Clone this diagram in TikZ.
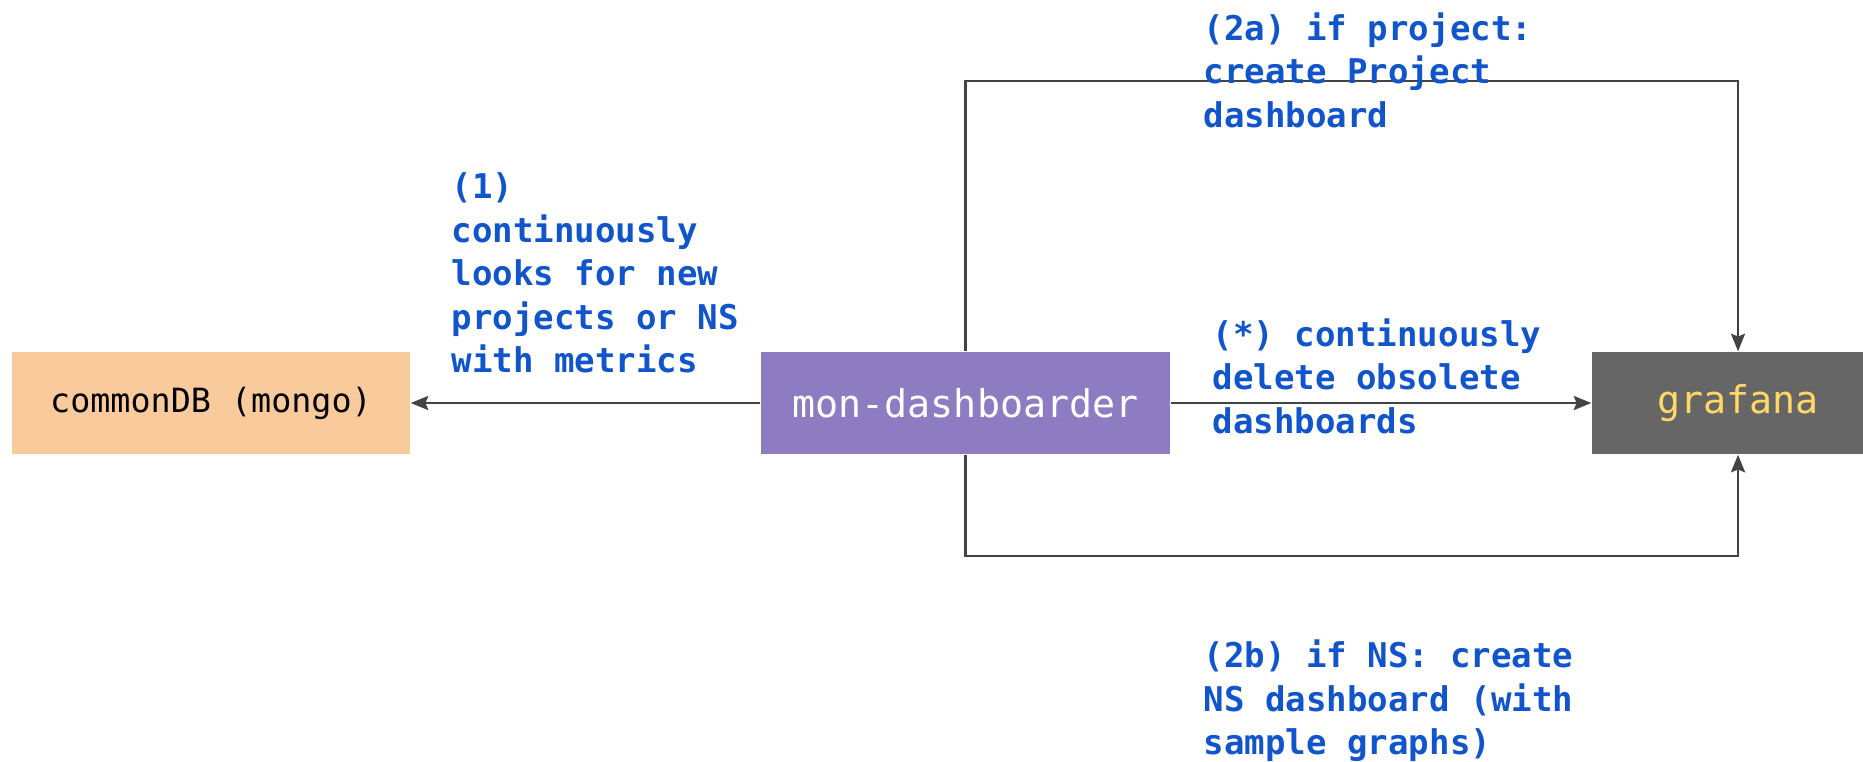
\documentclass[tikz,border=0pt]{standalone}
\usepackage{fontspec}
\setmonofont{DejaVu Sans Mono}
\definecolor{dbpeach}{RGB}{249,203,156}
\definecolor{dbpurple}{RGB}{142,124,195}
\definecolor{dbgray}{RGB}{102,102,102}
\definecolor{dbyellow}{RGB}{255,217,102}
\definecolor{dbblue}{RGB}{17,85,204}
\definecolor{dbline}{RGB}{67,67,67}
\usetikzlibrary{arrows.meta,positioning,calc}

\begin{document}
\begin{tikzpicture}[
  box/.style={minimum height=1.02cm, inner sep=0pt},
  note/.style={anchor=west, inner sep=0pt, align=left, text=dbblue,
    font=\ttfamily\bfseries\fontsize{9.7}{12.4}\selectfont},
  conn/.style={dbline, line width=0.65pt, -{Stealth[length=5pt,width=4pt,inset=0.8pt]}}]

\clip (0,0) rectangle (18.63,7.61);

% Boxes
\node[box, fill=dbpeach, minimum width=3.98cm,
      font=\ttfamily\fontsize{9.5}{11}\selectfont] (db) at (2.11,3.58) {commonDB (mongo)};
\node[box, fill=dbpurple, minimum width=4.09cm, text=white,
      font=\ttfamily\fontsize{10.9}{12}\selectfont] (dash) at (9.655,3.58) {mon-dashboarder};
\node[box, fill=dbgray, minimum width=2.92cm, text=dbyellow,
      font=\ttfamily\fontsize{10.9}{12}\selectfont] (graf) at (17.38,3.58) {grafana};

% Loop levels
\coordinate (top) at (0,6.80);
\coordinate (bot) at (0,2.05);

% Arrows
\draw[conn] (dash.west) -- (db.east);
\draw[conn] (dash.east) -- (graf.west);
\draw[conn] (dash.north) -- (dash.north |- top) -| (graf.north);
\draw[conn] (dash.south) -- (dash.south |- bot) -| (graf.south);

% Labels
\node[note] (l1) at (4.51,4.88) {(1)\\continuously\\looks for new\\projects or NS\\with metrics};
\node[note] (l2a) at (12.03,6.91) {(2a) if project:\\create Project\\dashboard};
\node[note] (lstar) at (12.12,3.85) {(*) continuously\\delete obsolete\\dashboards};
\node[note] (l2b) at (12.03,0.60) {(2b) if NS: create\\NS dashboard (with\\sample graphs)};

\end{tikzpicture}
\end{document}
